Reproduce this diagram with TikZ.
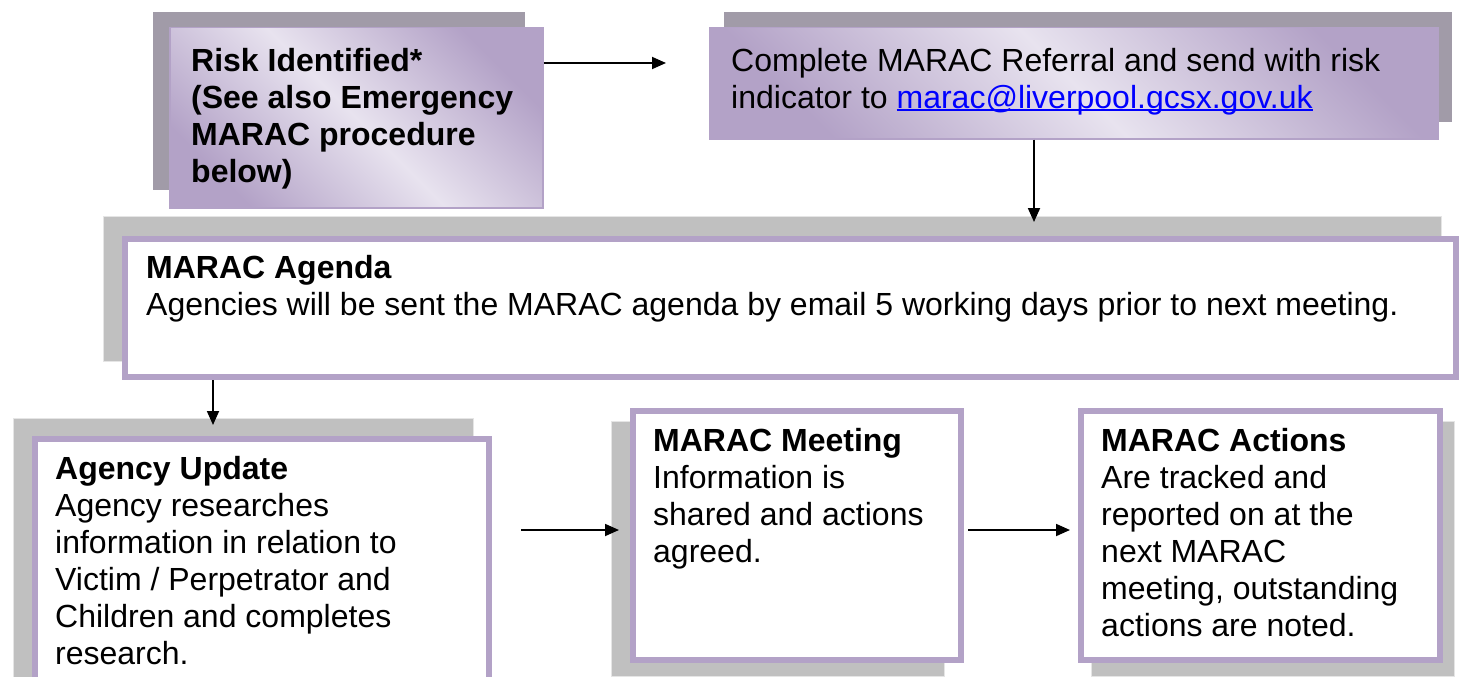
\documentclass[tikz,border=0pt]{standalone}
\usepackage{fontspec}
\setmainfont{Liberation Sans}
\usetikzlibrary{arrows.meta}
\definecolor{lav}{RGB}{179,162,199}
\definecolor{lavlight}{RGB}{232,227,239}
\definecolor{shadowdark}{RGB}{161,155,168}
\definecolor{shadowgray}{RGB}{192,192,192}
\definecolor{linkblue}{RGB}{0,0,255}
\tikzset{
  darkshadow/.style={fill=shadowdark, draw=none},
  grayshadow/.style={fill=shadowgray, draw=black!10, line width=1pt},
  gradbox/.style={draw=lav, line width=1.5pt, top color=lav, bottom color=lav, middle color=lavlight, shading angle=-45, inner sep=0pt, anchor=north west},
  whitebox/.style={fill=white, draw=lav, line width=6pt, inner sep=0pt, anchor=north west},
  boxtext/.style={anchor=north west, inner sep=0pt, align=left, font=\fontsize{32}{37}\selectfont},
  conn/.style={-{Triangle[length=14pt,width=12pt]}, line width=1.8pt, black},
}
\newcommand{\firstline}{\rule{0pt}{30pt}}
\newcommand{\linkul}[1]{\setbox0=\hbox{#1}\rlap{\rule[-3pt]{\wd0}{2pt}}\box0}
\begin{document}
\begin{tikzpicture}[x=1pt,y=-1pt]
\clip (0,0) rectangle (1459,677);
\fill[white] (0,0) rectangle (1459,677);

% shadows
\fill[darkshadow] (153,12) rectangle (525,190);
\fill[darkshadow] (724,12) rectangle (1452,122);
\filldraw[grayshadow] (103,216) rectangle (1441,361);
\filldraw[grayshadow] (13,418) rectangle (473,700);
\filldraw[grayshadow] (611,421) rectangle (944,676);
\filldraw[grayshadow] (1091,421) rectangle (1454,676);

% boxes
\node[gradbox, minimum width=373pt, minimum height=180pt] (risk) at (169,27) {};
\node[gradbox, minimum width=728pt, minimum height=111pt] (refer) at (709,27) {};
\node[whitebox, minimum width=1331pt, minimum height=138pt] (agenda) at (122,236) {};
\node[whitebox, minimum width=454pt, minimum height=300pt] (update) at (32,436) {};
\node[whitebox, minimum width=328pt, minimum height=249pt] (meeting) at (630,408) {};
\node[whitebox, minimum width=359pt, minimum height=249pt] (actions) at (1078,408) {};

% texts
\node[boxtext, font=\fontsize{32}{37}\selectfont\bfseries] (risktext) at (191,41)
  {\firstline Risk Identified*\\(See also Emergency\\MARAC procedure\\below)};
\node[boxtext] (refertext) at (731,41)
  {\firstline Complete MARAC Referral and send with risk\\indicator to {\color{linkblue}\linkul{marac@liverpool.gcsx.gov.uk}}};
\node[boxtext] (agendatext) at (146,248)
  {\firstline\textbf{MARAC Agenda}\\Agencies will be sent the MARAC agenda by email 5 working days prior to next meeting.};
\node[boxtext] (updatetext) at (55,449)
  {\firstline\textbf{Agency Update}\\Agency researches\\information in relation to\\Victim / Perpetrator and\\Children and completes\\research.};
\node[boxtext] (meetingtext) at (653,421)
  {\firstline\textbf{MARAC Meeting}\\Information is\\shared and actions\\agreed.};
\node[boxtext] (actionstext) at (1101,421)
  {\firstline\textbf{MARAC Actions}\\Are tracked and\\reported on at the\\next MARAC\\meeting, outstanding\\actions are noted.};

% connectors
\coordinate (a1end) at (666,63);
\coordinate (a2end) at (1034,222);
\coordinate (a3end) at (213,425);
\coordinate (a4start) at (521,530);
\coordinate (a4end) at (619,530);
\coordinate (a5start) at (968,530);
\coordinate (a5end) at (1070,530);
\draw[conn] (risk.east |- a1end) -- (a1end);
\draw[conn] (a2end |- refer.south) -- (a2end);
\draw[conn] (a3end |- agenda.south) -- (a3end);
\draw[conn] (a4start) -- (a4end);
\draw[conn] (a5start) -- (a5end);
\end{tikzpicture}
\end{document}
